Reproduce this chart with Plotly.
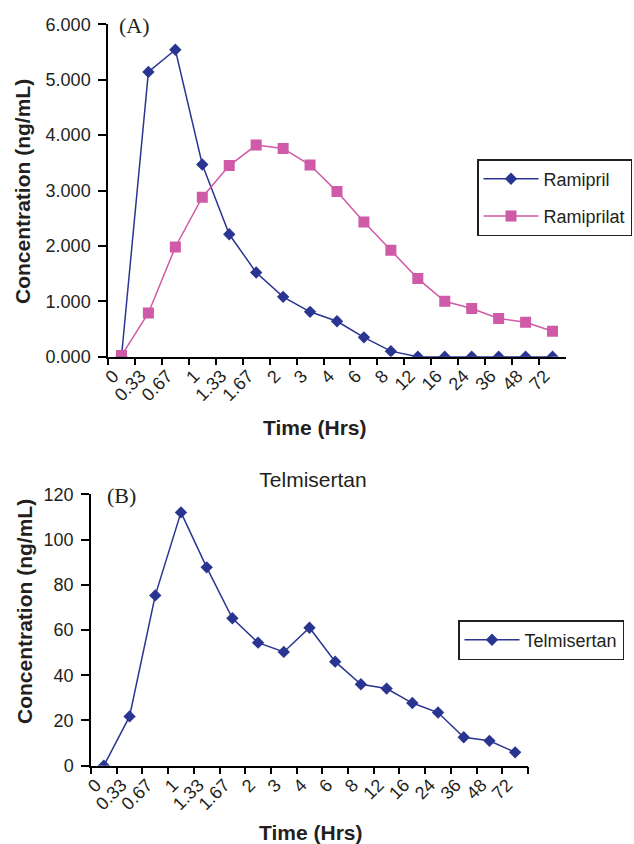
import plotly.graph_objects as go

time_labels = ["0", "0.33", "0.67", "1", "1.33", "1.67", "2", "3", "4", "6", "8",
               "12", "16", "24", "36", "48", "72"]
ramipril = [0.0, 5.14, 5.54, 3.47, 2.21, 1.52, 1.08, 0.81, 0.64, 0.35, 0.10,
            0.0, 0.0, 0.0, 0.0, 0.0, 0.0]
ramiprilat = [0.02, 0.79, 1.98, 2.88, 3.45, 3.82, 3.76, 3.46, 2.98, 2.43, 1.92,
              1.41, 1.00, 0.87, 0.69, 0.62, 0.46]
telmisartan = [0.0, 21.8, 75.3, 112.0, 87.7, 65.2, 54.4, 50.3, 61.0, 46.0, 36.0,
               34.1, 27.7, 23.5, 12.6, 11.0, 5.9]

BLUE = "#2a3592"
PINK = "#cf5aa7"
TXT = "#231f20"
FONT = "Liberation Sans, Arial, sans-serif"
SERIF = "Liberation Serif, Times New Roman, serif"

W, H = 634, 844
def px(x): return x / W
def py(y): return 1 - y / H

fig = go.Figure()
fig.add_trace(go.Scatter(x=time_labels, y=ramipril, name="Ramipril", mode="lines+markers",
                         line=dict(color=BLUE, width=1.5),
                         marker=dict(symbol="diamond", size=9.5, color=BLUE),
                         xaxis="x", yaxis="y", legend="legend", legendgroup="a"))
fig.add_trace(go.Scatter(x=time_labels, y=ramiprilat, name="Ramiprilat", mode="lines+markers",
                         line=dict(color=PINK, width=1.5),
                         marker=dict(symbol="square", size=11, color=PINK),
                         xaxis="x", yaxis="y", legend="legend", legendgroup="b"))
fig.add_trace(go.Scatter(x=time_labels, y=telmisartan, name="Telmisertan", mode="lines+markers",
                         line=dict(color=BLUE, width=1.5),
                         marker=dict(symbol="diamond", size=9.5, color=BLUE),
                         xaxis="x2", yaxis="y2", legend="legend2"))

ncat = len(time_labels)
xcommon = dict(type="category", tickson="boundaries", ticks="outside", ticklen=7,
               tickwidth=1.5, tickcolor="black", showline=True, linecolor="black",
               linewidth=1.5, showgrid=False, zeroline=False, tickangle=-45,
               tickfont=dict(family=FONT, size=18, color=TXT), automargin=False,
               ticklabelshift=-8, range=[-0.5, ncat - 0.5],
               categoryorder="array", categoryarray=time_labels)
ycommon = dict(ticks="outside", ticklen=8, tickwidth=1.5, tickcolor="black",
               showline=True, linecolor="black", linewidth=1.5, showgrid=False,
               zeroline=False, tickfont=dict(family=FONT, size=18, color=TXT),
               automargin=False, ticklabelstandoff=4)

fig.update_layout(
    width=W, height=H,
    margin=dict(l=0, r=0, t=0, b=0),
    paper_bgcolor="white", plot_bgcolor="white",
    showlegend=True,
    xaxis=dict(xcommon, domain=[px(108), px(566)], anchor="y"),
    yaxis=dict(ycommon, domain=[py(356.7), py(24.3)], range=[0, 6], dtick=1,
               tickformat=".3f", anchor="x"),
    xaxis2=dict(xcommon, domain=[px(91), px(528)], anchor="y2"),
    yaxis2=dict(ycommon, domain=[py(765.7), py(494.3)], range=[0, 120], dtick=20,
                anchor="x2"),
    legend=dict(x=px(477), y=py(159), xanchor="left", yanchor="top",
                bordercolor="#231f20", borderwidth=1.5, bgcolor="white",
                font=dict(family=FONT, size=18, color=TXT),
                traceorder="grouped", tracegroupgap=11, itemwidth=55),
    legend2=dict(x=px(458), y=py(620), xanchor="left", yanchor="top",
                 bordercolor="#231f20", borderwidth=1.5, bgcolor="white",
                 font=dict(family=FONT, size=18, color=TXT), itemwidth=55),
    title=dict(text="Telmisertan", x=px(313), y=py(480), xanchor="center",
               yanchor="middle", xref="paper", yref="paper",
               font=dict(family=FONT, size=21, color=TXT)),
)

bold = dict(family=FONT, size=21, color=TXT)
annots = [
    dict(text="<b>Concentration (ng/mL)</b>", x=px(22), y=py(192), textangle=-90, font=bold),
    dict(text="<b>Time (Hrs)</b>", x=px(314), y=py(427), font=bold),
    dict(text="<b>Concentration (ng/mL)</b>", x=px(24), y=py(612), textangle=-90, font=bold),
    dict(text="<b>Time (Hrs)</b>", x=px(310), y=py(832), font=bold),
    dict(text="(A)", x=px(134), y=py(25), font=dict(family=SERIF, size=22, color=TXT)),
    dict(text="(B)", x=px(121), y=py(496), font=dict(family=SERIF, size=22, color=TXT)),
]
for a in annots:
    fig.add_annotation(xref="paper", yref="paper", showarrow=False,
                       xanchor="center", yanchor="middle", **a)

fig.write_html("out.html")
